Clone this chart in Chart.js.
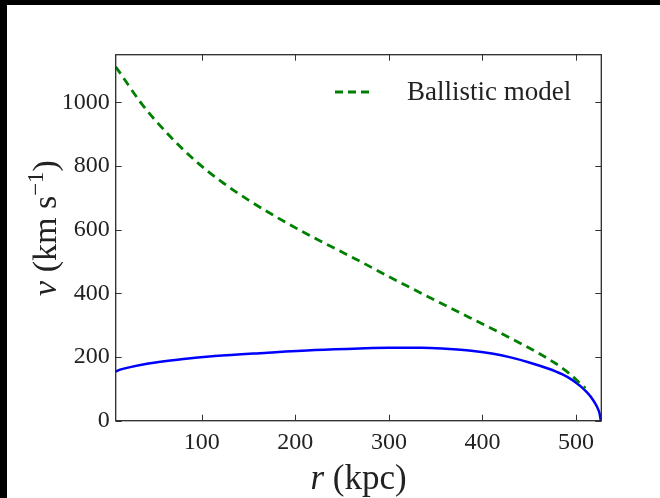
<!DOCTYPE html>
<html lang="en">
<head>
  <meta charset="UTF-8" />
  <title>Ballistic model</title>
  <script src="https://cdn.jsdelivr.net/npm/chart.js"></script>
  <style>
    body {
      margin: 0;
      background: #000;
      width: 660px;
      height: 498px;
      overflow: hidden;
    }
    .frame {
      position: absolute;
      left: 7px;
      top: 5px;
      width: 653px;
      height: 493px;
      background: #fff;
    }
  </style>
</head>
<body>

  <div class="frame"><canvas id="chart" width="653" height="493"></canvas></div>

  <script>
    // r (kpc) and v (km/s)
    const rBlue = [8, 9, 20, 43, 78, 114, 167, 221, 269, 300, 335, 360, 388, 410, 430, 450, 470, 485, 497, 505, 512, 518, 522, 525, 526.5];
    const vBlue = [154, 156, 166, 180, 193, 203, 213, 222, 227, 229, 229, 226, 220, 211, 199, 183, 164, 146, 126, 108, 88, 66, 46, 24, 0];

    const rGreen = [8, 9, 36, 64, 93, 121, 150, 178, 207, 235, 269, 299, 335, 370, 406, 442, 477, 493, 503, 510];
    const vGreen = [1112, 1108, 995, 900, 817, 751, 693, 643, 595, 552, 501, 454, 400, 348, 295, 241, 182, 148, 121, 102];

    const xTicks = [100, 200, 300, 400, 500];
    const yTicks = [0, 200, 400, 600, 800, 1000];
    const legendLabel = "Ballistic model";

    const SERIF = '"Liberation Serif", "DejaVu Serif", serif';

    function drawParts(ctx, parts, x, y) {
      let cx = x;
      parts.forEach(p => {
        ctx.font = p.font;
        ctx.fillText(p.text, cx, y + (p.dy || 0));
        cx += ctx.measureText(p.text).width;
      });
    }

    function partsWidth(ctx, parts) {
      let w = 0;
      parts.forEach(p => { ctx.font = p.font; w += ctx.measureText(p.text).width; });
      return w;
    }

    const decor = {
      id: 'decor',
      afterDraw(chart) {
        const ctx = chart.ctx;
        const a = chart.chartArea;
        const x = chart.scales.x;
        const y = chart.scales.y;
        ctx.save();

        // inward tick marks on all four sides
        ctx.strokeStyle = '#333';
        ctx.lineWidth = 1;
        ctx.beginPath();
        xTicks.forEach(v => {
          const px = Math.round(x.getPixelForValue(v)) + 0.5;
          ctx.moveTo(px, a.bottom); ctx.lineTo(px, a.bottom - 6);
          ctx.moveTo(px, a.top); ctx.lineTo(px, a.top + 6);
        });
        yTicks.forEach(v => {
          const py = Math.round(y.getPixelForValue(v)) + 0.5;
          ctx.moveTo(a.left, py); ctx.lineTo(a.left + 6, py);
          ctx.moveTo(a.right, py); ctx.lineTo(a.right - 6, py);
        });
        ctx.stroke();

        // axes frame
        ctx.strokeStyle = '#2a2a2a';
        ctx.lineWidth = 1.3;
        ctx.strokeRect(a.left, a.top, a.right - a.left, a.bottom - a.top);

        // legend
        ctx.strokeStyle = '#008000';
        ctx.lineWidth = 2.8;
        ctx.setLineDash([8, 5]);
        ctx.beginPath();
        ctx.moveTo(328, 87);
        ctx.lineTo(362, 87);
        ctx.stroke();
        ctx.setLineDash([]);
        ctx.fillStyle = '#222';
        ctx.textBaseline = 'alphabetic';
        ctx.textAlign = 'left';
        ctx.font = '27px ' + SERIF;
        ctx.fillText(legendLabel, 400, 95);

        // x axis title
        const xParts = [
          { text: 'r', font: 'italic 35px ' + SERIF },
          { text: ' (kpc)', font: '35px ' + SERIF }
        ];
        const xw = partsWidth(ctx, xParts);
        drawParts(ctx, xParts, (a.left + a.right) / 2 - xw / 2, 484);

        // y axis title
        const yParts = [
          { text: 'v', font: 'italic 34px ' + SERIF },
          { text: ' (km s', font: '34px ' + SERIF },
          { text: '\u22121', font: '23px ' + SERIF, dy: -13 },
          { text: ')', font: '34px ' + SERIF }
        ];
        const yw = partsWidth(ctx, yParts);
        ctx.translate(49, 223);
        ctx.rotate(-Math.PI / 2);
        drawParts(ctx, yParts, -yw / 2, 0);

        ctx.restore();
      }
    };

    new Chart(document.getElementById('chart').getContext('2d'), {
      type: 'line',
      data: {
        datasets: [
          {
            label: legendLabel,
            data: rGreen.map((r, i) => ({ x: r, y: vGreen[i] })),
            borderColor: '#008000',
            borderWidth: 2.8,
            borderDash: [8.5, 5.5],
            pointRadius: 0,
            cubicInterpolationMode: 'monotone',
            fill: false
          },
          {
            label: 'v(r)',
            data: rBlue.map((r, i) => ({ x: r, y: vBlue[i] })),
            borderColor: '#0000ff',
            borderWidth: 2.5,
            pointRadius: 0,
            cubicInterpolationMode: 'monotone',
            fill: false
          }
        ]
      },
      options: {
        responsive: false,
        animation: false,
        layout: {
          padding: { top: 49.7, right: 58.7, left: 0, bottom: 0 }
        },
        plugins: {
          legend: { display: false },
          tooltip: { enabled: false }
        },
        scales: {
          x: {
            type: 'linear',
            min: 8,
            max: 527,
            grid: { display: false, drawTicks: false },
            border: { display: false },
            ticks: { padding: 8, color: '#222', font: { family: SERIF, size: 24 }, callback: v => String(v) },
            afterBuildTicks: s => { s.ticks = xTicks.map(v => ({ value: v })); },
            afterFit: s => { s.height = 77.3; }
          },
          y: {
            min: 0,
            max: 1150,
            grid: { display: false, drawTicks: false },
            border: { display: false },
            ticks: { padding: 6, color: '#222', font: { family: SERIF, size: 24 }, callback: v => String(v) },
            afterBuildTicks: s => { s.ticks = yTicks.map(v => ({ value: v })); },
            afterFit: s => { s.width = 108.7; }
          }
        }
      },
      plugins: [decor]
    });
  </script>

</body>
</html>
